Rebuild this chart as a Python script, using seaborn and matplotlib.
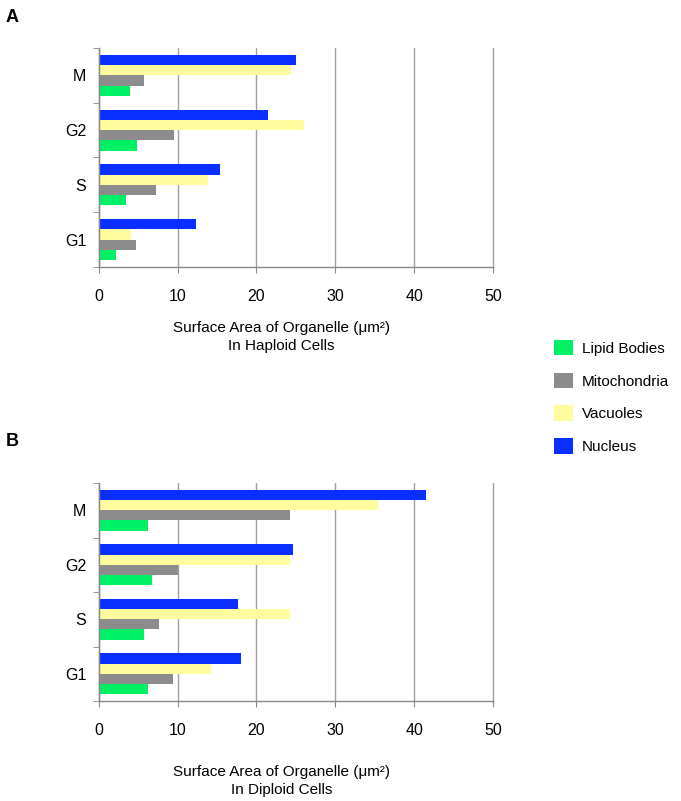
import pandas as pd
import matplotlib
matplotlib.use("Agg")
import matplotlib.pyplot as plt
import seaborn as sns
from matplotlib.patches import Patch

# cell cycle phases (top to bottom) and organelles (top bar to bottom bar within a group)
phases = ["M", "G2", "S", "G1"]
organelles = ["Nucleus", "Vacuoles", "Mitochondria", "Lipid Bodies"]
legend_order = ["Lipid Bodies", "Mitochondria", "Vacuoles", "Nucleus"]

# surface area (um^2), one list per organelle, order follows phases
haploid_nucleus = [25.0, 21.4, 15.4, 12.3]
haploid_vacuoles = [24.4, 26.0, 13.9, 4.1]
haploid_mito = [5.8, 9.5, 7.2, 4.7]
haploid_lipid = [3.9, 4.8, 3.5, 2.2]

diploid_nucleus = [41.5, 24.6, 17.6, 18.1]
diploid_vacuoles = [35.4, 24.2, 24.3, 14.2]
diploid_mito = [24.3, 10.1, 7.6, 9.4]
diploid_lipid = [6.2, 6.8, 5.7, 6.3]

colors = {"Nucleus": "#0a2eff", "Vacuoles": "#fffb9f",
          "Mitochondria": "#8c8c8c", "Lipid Bodies": "#00f065"}


def long_table(nuc, vac, mito, lipid):
    rows = []
    for org, vals in zip(organelles, [nuc, vac, mito, lipid]):
        for ph, v in zip(phases, vals):
            rows.append({"phase": ph, "organelle": org, "area": v})
    return pd.DataFrame(rows)


haploid = long_table(haploid_nucleus, haploid_vacuoles, haploid_mito, haploid_lipid)
diploid = long_table(diploid_nucleus, diploid_vacuoles, diploid_mito, diploid_lipid)

sns.set_style("white")
plt.rcParams["font.family"] = ["Liberation Sans", "DejaVu Sans"]
plt.rcParams["text.color"] = "black"
plt.rcParams["xtick.color"] = "black"
plt.rcParams["ytick.color"] = "black"

fig = plt.figure(figsize=(6.81, 8.01), dpi=100)
ax_a = fig.add_axes([0.145, 0.6667, 0.579, 0.2734])
ax_b = fig.add_axes([0.145, 0.1248, 0.579, 0.2722])

for ax, df in [(ax_a, haploid), (ax_b, diploid)]:
    sns.barplot(data=df, y="phase", x="area", hue="organelle", order=phases,
                hue_order=organelles, palette=colors, orient="h", width=0.75,
                saturation=1, linewidth=0, edgecolor="none", ax=ax, legend=False)
    ax.set_xlim(0, 50)
    ax.set_ylim(3.5, -0.5)
    ax.set_xticks(range(0, 51, 10))
    ax.grid(axis="x", color="#a0a0a0", lw=1)
    ax.grid(axis="y", visible=False)
    for gl in ax.get_xgridlines():
        gl.set_clip_on(False)
    ax.set_axisbelow(True)
    for s in ["top", "right"]:
        ax.spines[s].set_visible(False)
    for s in ["left", "bottom"]:
        ax.spines[s].set_color("#888888")
        ax.spines[s].set_linewidth(1)
    ax.set_yticks(range(len(phases)))
    ax.set_yticklabels(phases)
    ax.set_yticks([-0.5, 0.5, 1.5, 2.5, 3.5], minor=True)
    ax.tick_params(axis="y", which="major", length=0, pad=9, labelsize=11.5)
    ax.tick_params(axis="y", which="minor", length=4, color="#888888", direction="out", left=True)
    ax.tick_params(axis="x", length=4, color="#888888", direction="out", bottom=True,
                   labelsize=11.5, pad=12)
    ax.set_xlabel("")
    ax.set_ylabel("")

fig.text(0.413, 1 - 337 / 801, "Surface Area of Organelle (\u03bcm\u00b2)\nIn Haploid Cells",
         ha="center", va="center", fontsize=11, multialignment="center", linespacing=1.35)
fig.text(0.413, 1 - 781 / 801, "Surface Area of Organelle (\u03bcm\u00b2)\nIn Diploid Cells",
         ha="center", va="center", fontsize=11, multialignment="center", linespacing=1.35)

fig.text(0.008, 1 - 18 / 801, "A", fontsize=13, fontweight="bold", va="center")
fig.text(0.008, 1 - 442 / 801, "B", fontsize=13, fontweight="bold", va="center")

handles = [Patch(facecolor=colors[o], edgecolor="none", label=o) for o in legend_order]
fig.legend(handles=handles, loc="upper left", bbox_to_anchor=(0.7926, 1 - 326 / 801),
           frameon=False, fontsize=11, handlelength=1.25, handleheight=1.2,
           labelspacing=1.1, handletextpad=0.6)

fig.savefig("out.png", dpi=100)
